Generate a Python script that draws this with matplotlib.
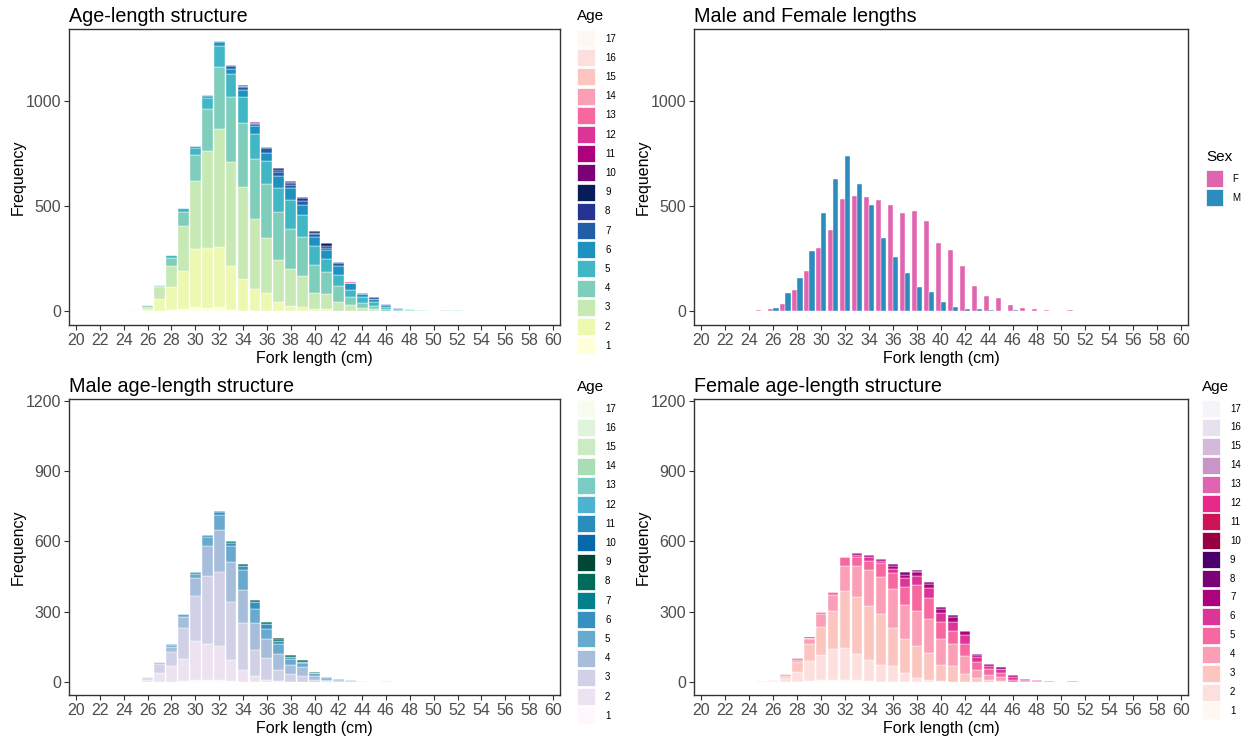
import matplotlib
matplotlib.use("Agg")
import matplotlib.pyplot as plt
from matplotlib.patches import Rectangle
import numpy as np

plt.rcParams['font.family'] = ['Liberation Sans', 'DejaVu Sans']

# ---------------- data ----------------
lengths = list(range(25, 53))   # fork length classes (cm)
age_levels = list(range(1, 18))

# All fish: counts per age (index follows `lengths`)
all_a1 = [0,0,0,5,8,20,16,19,6,0,0,0,0,0,0,0,0,0,0,0,0,0,0,0,0,0,0,0]
all_a2 = [2,10,59,108,183,276,284,286,208,151,103,84,43,24,21,8,8,0,0,0,0,0,0,0,0,0,0,0]
all_a3 = [3,10,54,103,214,322,462,562,497,437,333,262,200,176,146,79,73,41,27,16,8,0,0,0,0,0,0,0]
all_a4 = [0,7,8,37,67,127,200,294,308,306,286,260,229,190,184,132,105,78,37,24,17,8,0,4,0,0,0,0]
all_a5 = [0,0,3,14,19,33,51,102,110,125,121,108,114,138,105,90,62,54,37,25,17,11,5,6,5,0,4,3]
all_a6 = [0,0,0,0,0,6,13,19,25,33,38,38,59,56,48,41,43,41,32,14,16,10,6,0,0,0,0,2]
all_a7 = [0,0,0,0,0,0,3,4,13,13,10,22,17,14,21,16,10,13,0,0,0,5,5,0,0,0,0,0]
all_a8 = [0,0,0,0,0,0,0,0,6,6,6,8,10,10,13,6,9,6,0,6,8,0,0,0,0,0,0,0]
all_a9 = [0,0,0,0,0,0,0,0,0,0,0,0,11,6,6,8,13,0,0,0,0,0,0,0,0,0,0,0]
all_a10 = [0,0,0,0,0,0,0,0,0,4,4,0,0,4,0,0,0,0,0,0,0,0,0,0,0,0,0,0]
all_a12 = [0,0,0,0,0,0,0,0,0,0,0,0,0,0,0,0,0,0,6,0,0,0,0,0,0,0,0,0]

# Sexed fish
female_n = [3,8,32,100,189,298,384,533,549,541,527,503,468,476,429,322,290,213,119,73,62,27,13,8,5,0,5,0]
male_n   = [0,14,84,159,286,468,627,737,605,503,348,256,181,116,89,43,19,8,8,5,0,5,0,0,0,0,0,0]

# Males: counts per age
m_a1 = [0,0,0,0,3,11,9,9,3,0,0,0,0,0,0,0,0,0,0,0,0,0,0,0,0,0,0,0]
m_a2 = [0,8,37,68,95,166,154,145,91,51,28,11,6,0,0,0,0,0,0,0,0,0,0,0,0,0,0,0]
m_a3 = [0,8,40,60,132,191,290,316,248,203,108,94,46,33,26,9,4,0,0,3,0,0,0,0,0,0,0,0]
m_a4 = [0,4,8,23,47,77,128,179,169,138,118,80,70,40,40,17,6,4,5,3,0,3,0,0,0,0,0,0]
m_a5 = [0,0,0,8,13,18,40,65,70,85,60,40,40,24,14,11,6,5,5,0,0,0,0,0,0,0,0,0]
m_a6 = [0,0,0,3,0,6,6,11,14,20,28,23,14,11,6,0,4,4,0,0,0,0,0,0,0,0,0,0]
m_a7 = [0,0,0,0,0,0,0,4,7,0,0,0,0,0,0,0,0,0,0,0,0,0,0,0,0,0,0,0]
m_a8 = [0,0,0,0,0,0,0,3,0,7,7,9,8,9,8,7,0,0,0,0,0,0,0,0,0,0,0,0]
m_a9 = [0,0,0,0,0,0,0,0,0,0,0,0,5,0,0,0,0,0,0,0,0,0,0,0,0,0,0,0]

# Females: counts per age
f_a1 = [0,0,0,0,3,9,9,11,9,6,0,0,0,0,0,0,0,0,0,0,0,0,0,0,0,0,0,0]
f_a2 = [2,5,18,43,85,105,132,135,111,87,74,68,37,17,11,6,0,0,0,0,0,0,0,0,0,0,0,0]
f_a3 = [4,4,10,43,73,122,162,242,242,232,216,162,145,137,114,65,67,36,17,9,6,0,0,0,0,0,0,0]
f_a4 = [0,0,6,9,21,53,67,108,132,152,158,166,149,149,144,111,94,75,36,21,16,0,0,0,0,0,0,0]
f_a5 = [0,0,0,6,6,9,14,37,40,40,60,70,75,111,90,75,57,53,33,26,17,10,5,4,0,0,0,0]
f_a6 = [0,0,0,0,0,0,0,0,10,18,10,18,40,38,41,40,38,37,20,14,17,10,5,4,3,0,3,0]
f_a7 = [0,0,0,0,0,0,0,0,7,7,7,11,13,16,18,17,20,17,10,6,0,10,3,0,2,0,0,0]
f_a8 = [0,0,0,0,4,0,0,0,0,0,0,7,9,5,10,6,10,0,4,0,9,0,0,0,0,0,0,0]
f_a9 = [0,0,0,0,0,0,0,0,0,0,0,0,0,4,0,0,0,0,0,0,0,0,0,0,0,0,0,0]

all_cols = ['#FFFFD9','#EDF8B1','#C7E9B4','#7FCDBB','#41B6C4','#1D91C0','#225EA8','#253494','#081D58',
            '#7A0177','#AE017E','#DD3497','#F768A1','#FA9FB5','#FCC5C0','#FDE0DD','#FFF7F3']
male_cols = ['#FFF7FB','#ECE2F0','#D0D1E6','#A6BDDB','#67A9CF','#3690C0','#02818A','#016C59','#014636',
             '#0868AC','#2B8CBE','#4EB3D3','#7BCCC4','#A8DDB5','#CCEBC5','#E0F3DB','#F7FCF0']
female_cols = ['#FFF7F3','#FDE0DD','#FCC5C0','#FA9FB5','#F768A1','#DD3497','#AE017E','#7A0177','#49006A',
               '#980043','#CE1256','#E7298A','#DF65B0','#C994C7','#D4B9DA','#E7E1EF','#F7F4F9']
sex_labels = ['F', 'M']
sex_cols = ['#DF65B0', '#2B8CBE']

all_ages = {1: all_a1, 2: all_a2, 3: all_a3, 4: all_a4, 5: all_a5, 6: all_a6, 7: all_a7,
            8: all_a8, 9: all_a9, 10: all_a10, 12: all_a12}
male_ages = {1: m_a1, 2: m_a2, 3: m_a3, 4: m_a4, 5: m_a5, 6: m_a6, 7: m_a7, 8: m_a8, 9: m_a9}
female_ages = {1: f_a1, 2: f_a2, 3: f_a3, 4: f_a4, 5: f_a5, 6: f_a6, 7: f_a7, 8: f_a8, 9: f_a9}

# ---------------- layout ----------------
W, H = 1249, 740
fig = plt.figure(figsize=(W / 100, H / 100), dpi=100)
fig.patch.set_facecolor('white')

def axes_px(l, t, r, b):
    return fig.add_axes([l / W, 1 - b / H, (r - l) / W, (b - t) / H])

TICK_COL = '#4D4D4D'
FRAME_COL = '#333333'

def style(ax, title, ylim, yticks):
    ax.set_xlim(19.4, 60.6)
    ax.set_ylim(*ylim)
    ax.set_xticks(range(20, 61, 2))
    ax.set_yticks(yticks)
    ax.tick_params(axis='both', labelsize=11.5, labelcolor=TICK_COL, color=FRAME_COL,
                   length=3.5, width=0.8, pad=2)
    for s in ax.spines.values():
        s.set_color(FRAME_COL)
        s.set_linewidth(1.0)
    ax.set_title(title, loc='left', fontsize=14.2, pad=5, color='black')
    ax.set_xlabel('Fork length (cm)', fontsize=11.5, color='black')
    ax.set_ylabel('Frequency', fontsize=11.5, color='black')
    ax.xaxis.set_label_coords(0.5, -0.088)
    ax.yaxis.set_label_coords(-0.088, 0.5)

def stacked(ax, ages, cols):
    bottom = np.zeros(len(lengths))
    for a in sorted(ages):
        v = np.array(ages[a], dtype=float)
        ax.bar(lengths, v, width=0.9, bottom=bottom, color=cols[a - 1],
               edgecolor='white', linewidth=0.3)
        bottom += v

def manual_legend(title, labels, cols, x, title_y, key_top, step=19.2, key_w=18, key_h=17, label_dx=10):
    fig.text(x / W, 1 - title_y / H, title, fontsize=11, ha='left', va='center', color='black')
    for i, (lab, c) in enumerate(zip(labels, cols)):
        top = key_top + i * step
        fig.add_artist(Rectangle((x / W, 1 - (top + key_h) / H), key_w / W, key_h / H,
                                 transform=fig.transFigure, facecolor=c, edgecolor='white',
                                 linewidth=0.5))
        fig.text((x + key_w + label_dx) / W, 1 - (top + key_h / 2) / H, lab, fontsize=7,
                 ha='left', va='center', color='black')

rev_ages = list(reversed(age_levels))

# Panel 1
ax1 = axes_px(69, 29, 560, 325)
stacked(ax1, all_ages, all_cols)
style(ax1, 'Age-length structure', (-67, 1343), [0, 500, 1000])
manual_legend('Age', [str(a) for a in rev_ages], [all_cols[a - 1] for a in rev_ages], 577, 16, 30)

# Panel 2
ax2 = axes_px(694, 29, 1188, 325)
x = np.array(lengths, dtype=float)
ax2.bar(x - 0.225, female_n, width=0.45, color=sex_cols[0], edgecolor='white', linewidth=0.3)
ax2.bar(x + 0.225, male_n, width=0.45, color=sex_cols[1], edgecolor='white', linewidth=0.3)
style(ax2, 'Male and Female lengths', (-67, 1343), [0, 500, 1000])
manual_legend('Sex', sex_labels, sex_cols, 1206, 157, 170, step=19.2, key_w=17, key_h=17, label_dx=9)

# Panel 3
ax3 = axes_px(69, 399, 560, 695)
stacked(ax3, male_ages, male_cols)
style(ax3, 'Male age-length structure', (-55, 1208), [0, 300, 600, 900, 1200])
manual_legend('Age', [str(a) for a in rev_ages], [male_cols[a - 1] for a in rev_ages], 577, 387, 400)

# Panel 4
ax4 = axes_px(694, 399, 1188, 695)
stacked(ax4, female_ages, female_cols)
style(ax4, 'Female age-length structure', (-55, 1208), [0, 300, 600, 900, 1200])
manual_legend('Age', [str(a) for a in rev_ages], [female_cols[a - 1] for a in rev_ages], 1202, 387, 400,
              step=18.9)

fig.savefig('out.png', dpi=100)
